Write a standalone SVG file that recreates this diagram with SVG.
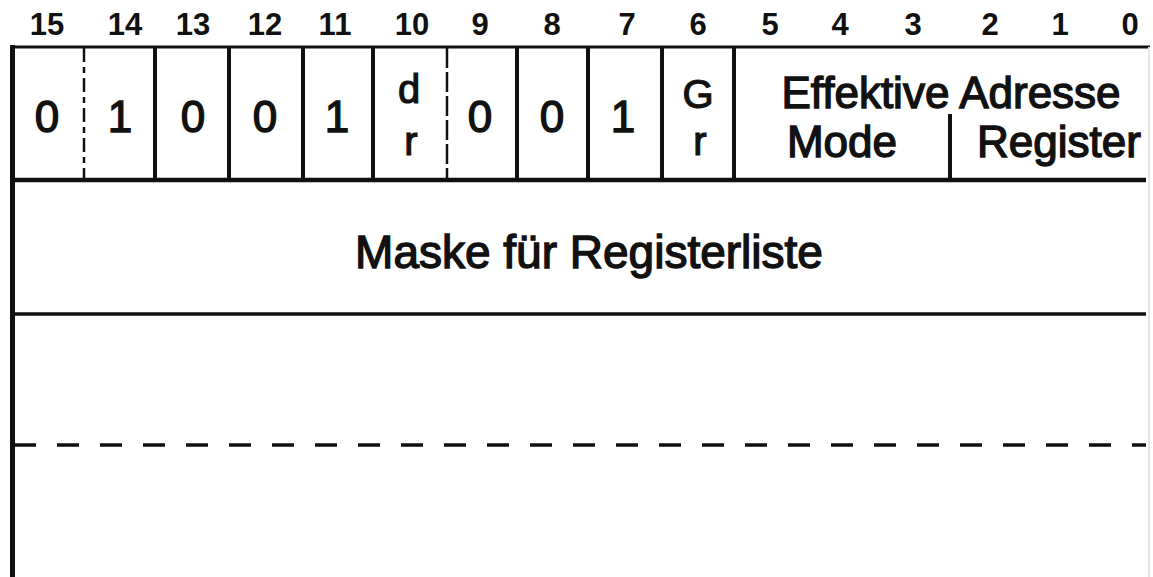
<svg xmlns="http://www.w3.org/2000/svg" width="1153" height="577" viewBox="0 0 1153 577">
<style>
.ln{stroke:#111;fill:none}
.num{font-family:"Liberation Sans",Arial,sans-serif;font-size:31px;font-weight:bold;fill:#111;text-anchor:middle}
.t{font-family:"Liberation Sans",Arial,sans-serif;font-size:44px;fill:#111;stroke:#111;stroke-width:1.4;text-anchor:middle}
.s{font-family:"Liberation Sans",Arial,sans-serif;font-size:40px;fill:#111;stroke:#111;stroke-width:1.2;text-anchor:middle}
</style>
<rect width="1153" height="577" fill="#fff"/>
<g id="bitnumbers">
<text class="num" x="47" y="35">15</text>
<text class="num" x="125" y="35">14</text>
<text class="num" x="193" y="35">13</text>
<text class="num" x="265" y="35">12</text>
<text class="num" x="335" y="35">11</text>
<text class="num" x="412" y="35">10</text>
<text class="num" x="480" y="35">9</text>
<text class="num" x="552" y="35">8</text>
<text class="num" x="627" y="35">7</text>
<text class="num" x="698" y="35">6</text>
<text class="num" x="770" y="35">5</text>
<text class="num" x="840" y="35">4</text>
<text class="num" x="913" y="35">3</text>
<text class="num" x="990" y="35">2</text>
<text class="num" x="1060" y="35">1</text>
<text class="num" x="1130" y="35">0</text>
</g>
<g id="frame">
<line class="ln" x1="10" y1="47" x2="1150" y2="47" stroke-width="3"/>
<line class="ln" x1="12.5" y1="45" x2="12.5" y2="577" stroke-width="5"/>
<line class="ln" x1="10" y1="180" x2="1146" y2="180" stroke-width="4.5"/>
<line class="ln" x1="10" y1="314" x2="1146" y2="314" stroke-width="3.5"/>
<line class="ln" x1="14" y1="445" x2="1146" y2="445" stroke-width="3.5" stroke-dasharray="22 21"/>
<line x1="1149" y1="47" x2="1149" y2="577" stroke="#e6e6e6" stroke-width="2"/>
</g>
<g id="dividers">
<line class="ln" x1="84" y1="48" x2="84" y2="180" stroke-width="2.5" stroke-dasharray="14 5 6 5"/>
<line class="ln" x1="155" y1="48" x2="155" y2="180" stroke-width="4"/>
<line class="ln" x1="229" y1="48" x2="229" y2="180" stroke-width="4"/>
<line class="ln" x1="303" y1="48" x2="303" y2="180" stroke-width="4"/>
<line class="ln" x1="373" y1="48" x2="373" y2="180" stroke-width="4"/>
<line class="ln" x1="447" y1="48" x2="447" y2="180" stroke-width="2.5" stroke-dasharray="20 4"/>
<line class="ln" x1="517" y1="48" x2="517" y2="180" stroke-width="4"/>
<line class="ln" x1="588" y1="48" x2="588" y2="180" stroke-width="4"/>
<line class="ln" x1="662" y1="48" x2="662" y2="180" stroke-width="4"/>
<line class="ln" x1="734" y1="48" x2="734" y2="180" stroke-width="4"/>
<line class="ln" x1="950" y1="114" x2="950" y2="180" stroke-width="4"/>
</g>
<g id="bit15"><text class="t" x="47" y="132">0</text></g>
<g id="bit14"><text class="t" x="120" y="132">1</text></g>
<g id="bit13"><text class="t" x="193" y="132">0</text></g>
<g id="bit12"><text class="t" x="265" y="132">0</text></g>
<g id="bit11"><text class="t" x="337" y="132">1</text></g>
<g id="bit10"><text class="s" x="409" y="103">d</text><text class="s" x="411" y="155">r</text></g>
<g id="bit9"><text class="t" x="480" y="132">0</text></g>
<g id="bit8"><text class="t" x="552" y="132">0</text></g>
<g id="bit7"><text class="t" x="623" y="132">1</text></g>
<g id="bit6"><text class="s" x="698" y="108">G</text><text class="s" x="700" y="155">r</text></g>
<g id="ea"><text class="t" x="951" y="108">Effektive Adresse</text>
<text class="t" x="842" y="157">Mode</text>
<text class="t" x="1059" y="157">Register</text></g>
<g id="mask"><text class="t" x="589" y="268" style="font-size:46px">Maske für Registerliste</text></g>
</svg>
